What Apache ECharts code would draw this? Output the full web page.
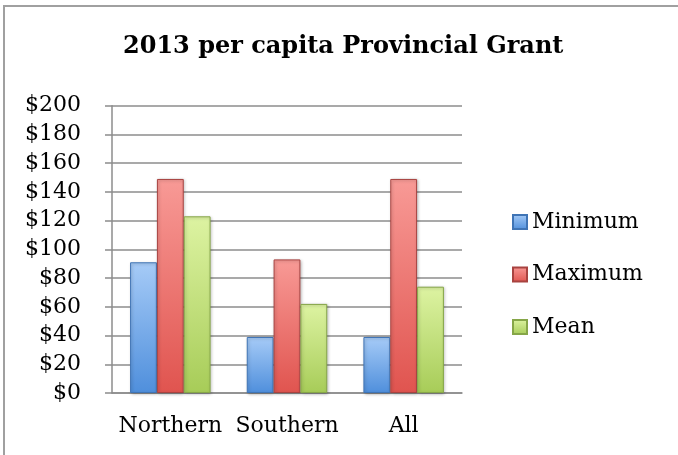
<!DOCTYPE html>
<html>
<head>
<meta charset="utf-8">
<script src="https://cdn.jsdelivr.net/npm/echarts@6/dist/echarts.min.js"></script>
<style>
	html, body { margin: 0; padding: 0; background: #fff; }
	#chart { width: 678px; height: 455px; }
</style>
</head>
<body>
<div id="chart"></div>
<script>
	const categories = ["Northern", "Southern", "All"];
	const minimum = [91, 39, 39];
	const maximum = [149, 93, 149];
	const mean = [123, 62, 74];
	const yTicks = { min: 0, max: 200, interval: 20 };

	const font = "DejaVu Serif";

	const grad = (top, bottom) => new echarts.graphic.LinearGradient(0, 0, 0, 1, [
		{ offset: 0, color: top },
		{ offset: 1, color: bottom }
	]);

	const makeSeries = (name, data, top, bottom, border) => ({
		name,
		type: "bar",
		data,
		barGap: "0%",
		barCategoryGap: "31%",
		itemStyle: {
			color: grad(top, bottom),
			borderColor: border,
			borderWidth: 1,
			shadowColor: "rgba(0,0,0,0.25)",
			shadowBlur: 3,
			shadowOffsetX: 1,
			shadowOffsetY: 1
		}
	});

	const chart = echarts.init(document.getElementById("chart"));
	chart.setOption({
		animation: false,
		backgroundColor: "#fff",
		graphic: [{
			type: "rect",
			shape: { x: 4, y: 6, width: 720, height: 520 },
			style: { fill: "none", stroke: "#a0a0a0", lineWidth: 2 }
		}],
		title: {
			text: "2013 per capita Provincial Grant",
			left: 118,
			top: 30,
			textStyle: { fontFamily: font, fontWeight: "bold", fontSize: 24, color: "#000" }
		},
		grid: { left: 112, right: 216, top: 105.7, bottom: 62 },
		legend: {
			orient: "vertical",
			left: 507,
			top: 205,
			icon: "rect",
			itemWidth: 14,
			itemHeight: 14,
			itemGap: 28.5,
			textStyle: { fontFamily: font, fontSize: 22, lineHeight: 24, color: "#000" },
			data: ["Minimum", "Maximum", "Mean"]
		},
		xAxis: {
			type: "category",
			data: categories,
			axisLine: { lineStyle: { color: "#8c8c8c", width: 1.5 } },
			axisTick: { length: 7, lineStyle: { color: "#8c8c8c", width: 1.5 } },
			axisLabel: { interval: 0, fontFamily: font, fontSize: 22, color: "#000", margin: 22 }
		},
		yAxis: {
			type: "value",
			min: yTicks.min,
			max: yTicks.max,
			interval: yTicks.interval,
			axisLine: { show: true, lineStyle: { color: "#8c8c8c", width: 1.5 } },
			axisTick: { show: true, length: 7, lineStyle: { color: "#8c8c8c", width: 1.5 } },
			splitLine: { lineStyle: { color: "#8c8c8c", width: 1.5 } },
			axisLabel: { fontFamily: font, fontSize: 22, color: "#000", margin: 31, formatter: v => "$" + v }
		},
		series: [
			makeSeries("Minimum", minimum, "#a6cbf7", "#4f8fdc", "#3f74b5"),
			makeSeries("Maximum", maximum, "#f89a96", "#e0544f", "#a84340"),
			makeSeries("Mean", mean, "#ddf3a2", "#a7cc58", "#86a648")
		]
	});
</script>
</body>
</html>
